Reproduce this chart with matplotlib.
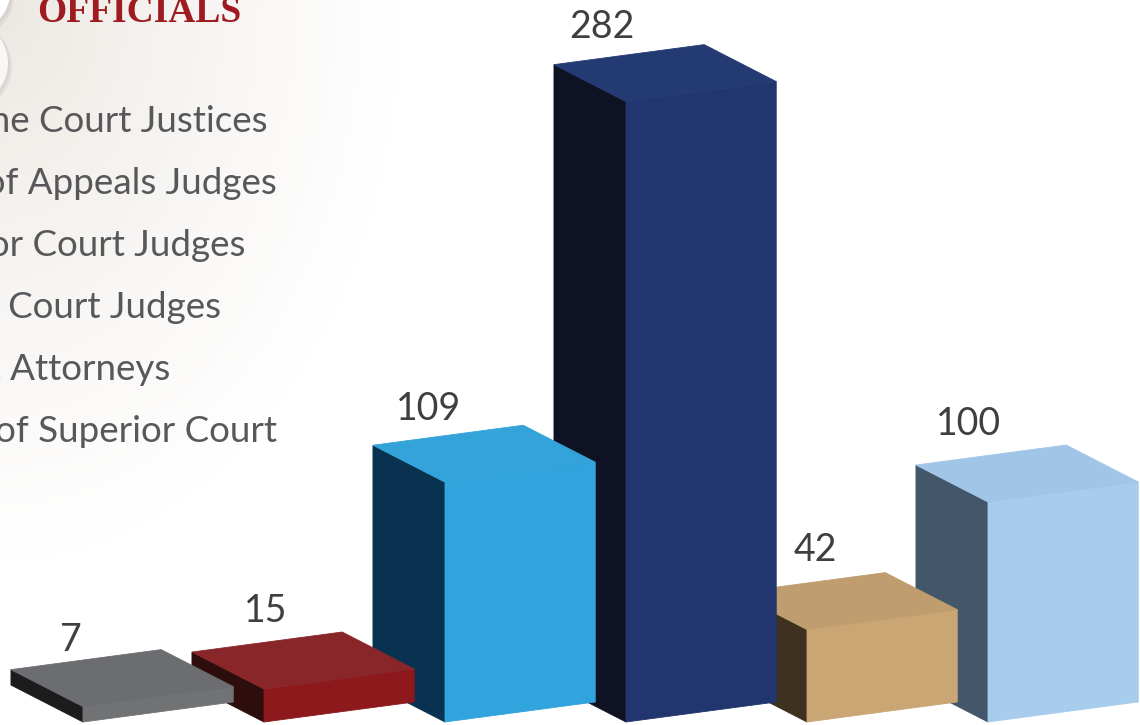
import numpy as np
import matplotlib
matplotlib.use('Agg')
import matplotlib.pyplot as plt
from matplotlib.patches import Polygon, Circle

# data
categories = ['Supreme Court Justices', 'Court of Appeals Judges',
              'Superior Court Judges', 'District Court Judges',
              'District Attorneys', 'Clerks of Superior Court']
counts = [7, 15, 109, 282, 42, 100]
title = 'OFFICIALS'

# face colours per bar: front, top, side
front_colors = ['#707274', '#8e191c', '#31a4dd', '#21356f', '#c9a674', '#a8ccec']
top_colors = ['#6b6d70', '#88262a', '#34a3da', '#233a72', '#bf9d6e', '#a1c5e7']
side_colors = ['#1c1c1d', '#2e0d0d', '#093250', '#0e1222', '#3f3120', '#43566a']

# small hand nudges of the value labels (pixels)
label_dx = [-10, 4, -14, -22, 10, -17]
label_dy = [-9, 2, -3, -1, 4, 2]

W, H = 1140, 725
fig = plt.figure(figsize=(W / 100, H / 100), dpi=100)

# background: warm grey fading to white, in pixel coordinates
bg = fig.add_axes([0, 0, 1, 1])
yy, xx = np.mgrid[0:H, 0:W]
t = np.clip(np.sqrt((xx / 400.0) ** 2 + (yy / 560.0) ** 2), 0, 1) ** 0.75
base = np.array([0.922, 0.902, 0.878])
img = base[None, None, :] * (1 - t[..., None]) + t[..., None]
bg.imshow(img, extent=(0, W, H, 0), aspect='auto', interpolation='bilinear')
bg.set_xlim(0, W)
bg.set_ylim(H, 0)
bg.axis('off')

# decorative badges cut by the left edge
for cx, cy, r, fc in [(-30, -8, 40, 'white'), (-35, 63, 43, '#f8f7f5')]:
    for k, a in enumerate([0.08, 0.08, 0.1]):
        bg.add_patch(Circle((cx + 1, cy + 2 + k), r + 1 + k, color='#9c968f', alpha=a, lw=0))
    bg.add_patch(Circle((cx, cy), r, color=fc, lw=0))

bg.text(37, 22, title, family='Liberation Serif', weight='bold', fontsize=27,
        color='#9e1b21', va='baseline', ha='left')

legend_right = [267, 277, 245, 221, 170, 277]
for k, (lab, xr) in enumerate(zip(categories, legend_right)):
    bg.text(xr, 132 + 62 * k, lab, family='Lato', fontsize=26.5, color='#58585a',
            ha='right', va='baseline')

# bars: x in category units, y in counts
ax = fig.add_axes([0, 0, 1, 1])
ax.patch.set_alpha(0)
ax.set_xlim(-83 / 181, (W - 83) / 181)
ax.set_ylim(-3 / 2.2, 722 / 2.2)
ax.axis('off')

bw, rise = 0.83, 9.1        # front face width and its tilt
dx, dy = -0.398, 16.8       # depth direction (towards the back-left)

n = len(counts)
for i, v in enumerate(counts):
    x0 = i
    z = n - i
    front = [(x0, 0), (x0 + bw, rise), (x0 + bw, rise + v), (x0, v)]
    side = [(x0, 0), (x0 + dx, dy), (x0 + dx, dy + v), (x0, v)]
    top = [(x0, v), (x0 + bw, v + rise), (x0 + bw + dx, v + rise + dy), (x0 + dx, v + dy)]
    for pts, c in [(side, side_colors[i]), (front, front_colors[i]), (top, top_colors[i])]:
        ax.add_patch(Polygon(pts, closed=True, facecolor=c, edgecolor=c, lw=0.6, zorder=z))
    ax.text(x0 + (label_dx[i] - 2) / 181, v + dy + 12.7 + label_dy[i] / 2.2, str(v),
            family='Lato', fontsize=27, color='#3f3f41', ha='center', va='baseline',
            zorder=20)

fig.savefig('out.png', dpi=100)
